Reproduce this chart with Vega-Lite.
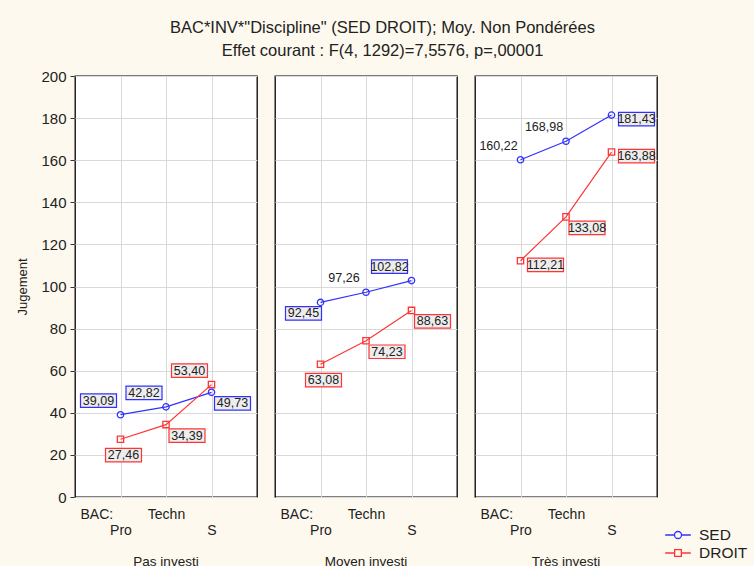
{
  "$schema": "https://vega.github.io/schema/vega-lite/v6.json",
  "background": "#fdf9ee",
  "padding": {"left": 16, "top": 19, "right": 100, "bottom": 0},
  "title": {
    "text": ["BAC*INV*\"Discipline\" (SED DROIT); Moy. Non Pondérées", "Effet courant : F(4, 1292)=7,5576, p=,00001"],
    "font": "Liberation Sans", "fontSize": 16.5, "fontWeight": "normal", "color": "#222222",
    "lineHeight": 23, "anchor": "middle", "offset": 10
  },
  "data": {"values": [
    {"inv": "Pas investi", "bac": "Pro", "disc": "SED", "val": 39.09},
    {"inv": "Pas investi", "bac": "Techn", "disc": "SED", "val": 42.82},
    {"inv": "Pas investi", "bac": "S", "disc": "SED", "val": 49.73},
    {"inv": "Pas investi", "bac": "Pro", "disc": "DROIT", "val": 27.46},
    {"inv": "Pas investi", "bac": "Techn", "disc": "DROIT", "val": 34.39},
    {"inv": "Pas investi", "bac": "S", "disc": "DROIT", "val": 53.40},
    {"inv": "Moyen investi", "bac": "Pro", "disc": "SED", "val": 92.45},
    {"inv": "Moyen investi", "bac": "Techn", "disc": "SED", "val": 97.26},
    {"inv": "Moyen investi", "bac": "S", "disc": "SED", "val": 102.82},
    {"inv": "Moyen investi", "bac": "Pro", "disc": "DROIT", "val": 63.08},
    {"inv": "Moyen investi", "bac": "Techn", "disc": "DROIT", "val": 74.23},
    {"inv": "Moyen investi", "bac": "S", "disc": "DROIT", "val": 88.63},
    {"inv": "Très investi", "bac": "Pro", "disc": "SED", "val": 160.22},
    {"inv": "Très investi", "bac": "Techn", "disc": "SED", "val": 168.98},
    {"inv": "Très investi", "bac": "S", "disc": "SED", "val": 181.43},
    {"inv": "Très investi", "bac": "Pro", "disc": "DROIT", "val": 112.21},
    {"inv": "Très investi", "bac": "Techn", "disc": "DROIT", "val": 133.08},
    {"inv": "Très investi", "bac": "S", "disc": "DROIT", "val": 163.88}
  ]},
  "facet": {
    "column": {
      "field": "inv", "type": "nominal",
      "sort": ["Pas investi", "Moyen investi", "Très investi"],
      "header": {"title": null, "labelOrient": "bottom", "labelFont": "Liberation Sans", "labelFontSize": 13.5, "labelColor": "#222222", "labelPadding": 18}
    }
  },
  "spacing": 16,
  "spec": {
    "width": 182,
    "height": 421,
    "encoding": {
      "x": {
        "field": "bac", "type": "nominal", "sort": ["Pro", "Techn", "S"],
        "scale": {"type": "point", "padding": 1},
        "axis": {
          "title": "BAC:", "labelAngle": 0, "ticks": false, "domain": false, "grid": true, "gridColor": "#d9d9d9",
          "labelFont": "Liberation Sans", "labelFontSize": 14, "labelColor": "#222222",
          "labelPadding": {"condition": {"test": "datum.value == 'Techn'", "value": 9}, "value": 25},
          "titleFont": "Liberation Sans", "titleFontSize": 14, "titleFontWeight": "normal", "titleColor": "#222222",
          "titleAnchor": "start", "titleAlign": "left", "titleBaseline": "top", "titleX": 5, "titleY": 9
        }
      },
      "y": {
        "field": "val", "type": "quantitative",
        "scale": {"domain": [0, 200], "nice": false},
        "axis": {
          "title": "Jugement", "values": [0, 20, 40, 60, 80, 100, 120, 140, 160, 180, 200],
          "grid": true, "gridColor": "#d9d9d9", "domain": false, "tickColor": "#333333", "tickSize": 4,
          "labelFont": "Liberation Sans", "labelFontSize": 15, "labelColor": "#222222", "labelPadding": 4,
          "titleFont": "Liberation Sans", "titleFontSize": 13, "titleFontWeight": "normal", "titleColor": "#222222", "titlePadding": 11
        }
      },
      "color": {
        "field": "disc", "type": "nominal",
        "scale": {"domain": ["SED", "DROIT"], "range": ["#3030ff", "#ff3535"]},
        "legend": {"title": null, "orient": "none", "legendX": 594, "legendY": 450, "padding": 0, "symbolSize": 256, "symbolStrokeWidth": 1.3, "symbolFillColor": "transparent",
          "symbolType": {"expr": "datum.value == 'SED' ? 'M-1.6,0H-0.44M0.44,0H1.6M-0.44,0A0.44,0.44 0 1,1 0.44,0A0.44,0.44 0 1,1 -0.44,0Z' : 'M-1.6,0H-0.42M0.42,0H1.6M-0.42,-0.42H0.42V0.42H-0.42Z'"},
          "labelFont": "Liberation Sans", "labelFontSize": 15.5, "labelColor": "#222222", "rowPadding": -3, "labelOffset": 12}
      }
    },
    "layer": [
      {"mark": {"type": "line", "strokeWidth": 1.2}},
      {
        "transform": [{"filter": "datum.disc == 'SED'"}],
        "mark": {"type": "point", "shape": "circle", "filled": false, "strokeWidth": 1.3, "size": 40, "opacity": 1}
      },
      {
        "transform": [{"filter": "datum.disc == 'DROIT'"}],
        "mark": {"type": "point", "shape": "square", "filled": false, "strokeWidth": 1.3, "size": 40, "opacity": 1}
      },
      {
        "transform": [{"filter": "datum.disc=='SED' && datum.bac!='S' && datum.inv=='Pas investi' || (datum.inv=='Pas investi' && datum.disc=='DROIT' && datum.bac=='S') || (datum.inv=='Moyen investi' && datum.disc=='SED' && datum.bac=='S')"}],
        "mark": {"type": "point", "shape": "M-4.0,-2.075H-0.4V-0.725H-4.0Z", "size": 400, "filled": false, "fill": "#ededed", "fillOpacity": 1, "strokeWidth": 1.2, "opacity": 1}
      },
      {
        "transform": [{"filter": "(datum.disc=='SED' && datum.bac!='S' && !(datum.inv=='Moyen investi' && datum.bac=='Pro')) || (datum.inv=='Pas investi' && datum.disc=='DROIT' && datum.bac=='S') || (datum.inv=='Moyen investi' && datum.disc=='SED' && datum.bac=='S')"}],
        "mark": {"type": "text", "dx": -22, "dy": -14, "align": "center", "baseline": "middle", "font": "Liberation Sans", "fontSize": 12.5},
        "encoding": {"text": {"field": "val", "type": "quantitative", "format": ".2f"}, "color": {"value": "#222222"}}
      },
      {
        "transform": [{"filter": "datum.disc=='DROIT' && datum.bac=='Pro' && datum.inv!='Très investi'"}],
        "mark": {"type": "point", "shape": "M-1.5,0.925H2.1V2.275H-1.5Z", "size": 400, "filled": false, "fill": "#ededed", "fillOpacity": 1, "strokeWidth": 1.2, "opacity": 1}
      },
      {
        "transform": [{"filter": "datum.disc=='DROIT' && datum.bac=='Pro' && datum.inv!='Très investi'"}],
        "mark": {"type": "text", "dx": 3, "dy": 16, "align": "center", "baseline": "middle", "font": "Liberation Sans", "fontSize": 12.5},
        "encoding": {"text": {"field": "val", "type": "quantitative", "format": ".2f"}, "color": {"value": "#222222"}}
      },
      {
        "transform": [{"filter": "datum.inv=='Moyen investi' && datum.disc=='SED' && datum.bac=='Pro'"}],
        "mark": {"type": "point", "shape": "M-3.5,0.425H0.1V1.775H-3.5Z", "size": 400, "filled": false, "fill": "#ededed", "fillOpacity": 1, "strokeWidth": 1.2, "opacity": 1}
      },
      {
        "transform": [{"filter": "datum.inv=='Moyen investi' && datum.disc=='SED' && datum.bac=='Pro'"}],
        "mark": {"type": "text", "dx": -17, "dy": 11, "align": "center", "baseline": "middle", "font": "Liberation Sans", "fontSize": 12.5},
        "encoding": {"text": {"field": "val", "type": "quantitative", "format": ".2f"}, "color": {"value": "#222222"}}
      },
      {
        "transform": [{"filter": "(datum.disc=='SED' && datum.bac=='S' && datum.inv=='Pas investi') || (datum.disc=='DROIT' && datum.bac=='Techn') || (datum.disc=='DROIT' && datum.bac=='S' && datum.inv=='Moyen investi')"}],
        "mark": {"type": "point", "shape": "M0.3,0.425H3.9V1.775H0.3Z", "size": 400, "filled": false, "fill": "#ededed", "fillOpacity": 1, "strokeWidth": 1.2, "opacity": 1}
      },
      {
        "transform": [{"filter": "(datum.disc=='SED' && datum.bac=='S' && datum.inv=='Pas investi') || (datum.disc=='DROIT' && datum.bac=='Techn') || (datum.disc=='DROIT' && datum.bac=='S' && datum.inv=='Moyen investi')"}],
        "mark": {"type": "text", "dx": 21, "dy": 11, "align": "center", "baseline": "middle", "font": "Liberation Sans", "fontSize": 12.5},
        "encoding": {"text": {"field": "val", "type": "quantitative", "format": ".2f"}, "color": {"value": "#222222"}}
      },
      {
        "transform": [{"filter": "datum.inv=='Très investi' && ((datum.disc=='SED' && datum.bac=='S') || (datum.disc=='DROIT' && datum.bac!='Techn'))"}],
        "mark": {"type": "point", "shape": "M0.7,-0.275H4.3V1.075H0.7Z", "size": 400, "filled": false, "fill": "#ededed", "fillOpacity": 1, "strokeWidth": 1.2, "opacity": 1}
      },
      {
        "transform": [{"filter": "datum.inv=='Très investi' && ((datum.disc=='SED' && datum.bac=='S') || (datum.disc=='DROIT' && datum.bac!='Techn'))"}],
        "mark": {"type": "text", "dx": 25, "dy": 4, "align": "center", "baseline": "middle", "font": "Liberation Sans", "fontSize": 12.5},
        "encoding": {"text": {"field": "val", "type": "quantitative", "format": ".2f"}, "color": {"value": "#222222"}}
      }
    ]
  },
  "config": {
    "locale": {"number": {"decimal": ",", "thousands": "", "grouping": [3], "currency": ["", " €"]}},
    "view": {"stroke": "#000000", "strokeWidth": 1.3, "fill": "#ffffff"}
  }
}
